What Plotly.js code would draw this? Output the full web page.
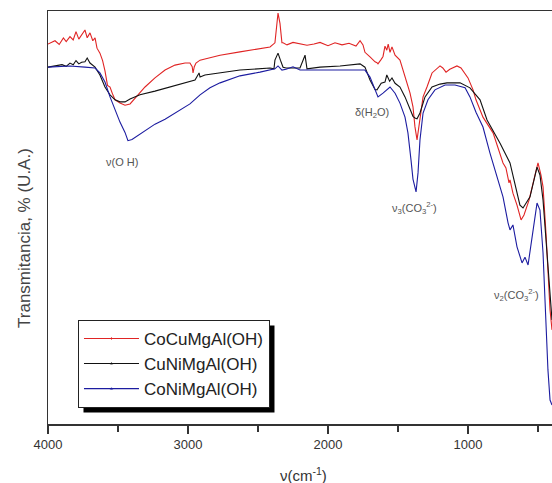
<!DOCTYPE html>
<html>
<head>
<meta charset="utf-8">
<script src="https://cdn.plot.ly/plotly-3.0.1.min.js"></script>
<style>
html,body{margin:0;padding:0;background:#fff;}
#chart{width:552px;height:483px;}
</style>
</head>
<body>
<div id="chart"></div>
<script>
// Wavenumber (cm-1) and transmittance (arbitrary units)
const seriesNames = ["CoCuMgAl(OH)", "CuNiMgAl(OH)", "CoNiMgAl(OH)"];

const redX = [4000,3950,3920,3890,3870,3843,3820,3800,3780,3760,3736,3720,3700,3680,3664,3650,3629,3610,3593,3575,3557,3540,3521,3486,3450,3414,3379,3307,3236,3164,3093,3021,2986,2970,2964,2955,2943,2914,2879,2771,2629,2486,2414,2379,2370,2357,2343,2329,2321,2293,2250,2200,2150,2100,2057,2000,1950,1900,1850,1800,1771,1750,1736,1700,1664,1650,1643,1620,1607,1593,1580,1570,1557,1543,1536,1521,1486,1450,1414,1393,1379,1364,1357,1343,1321,1293,1257,1200,1180,1157,1130,1079,1050,1000,964,943,893,821,750,729,707,700,679,650,621,600,564,521,500,479,464,443,429,414,400];
const redY = [92.0,92.8,91.9,93.5,92.6,93.8,93.0,95.0,93.2,94.3,95.4,93.5,94.7,92.8,93.5,91.0,89.8,88.0,85.5,82.0,81.6,80.0,78.5,77.7,77.2,77.5,78.9,81.6,83.8,85.7,86.9,87.4,87.4,86.5,85.0,86.5,87.4,88.1,88.4,89.3,90.1,91.0,91.3,92.3,96.0,99.5,97.0,92.3,92.3,91.8,92.4,92.1,91.7,92.0,92.4,91.6,92.3,91.8,92.2,91.5,92.8,91.8,90.0,88.9,87.7,87.5,87.2,88.3,89.0,91.5,90.5,92.0,90.0,91.3,90.5,89.3,88.1,84.0,80.1,76.8,72.0,68.8,70.5,73.6,79.2,81.6,85.0,86.7,86.2,85.2,85.9,86.7,86.2,83.8,80.9,78.5,74.3,70.5,63.2,62.0,58.4,59.1,55.9,53.0,49.4,50.6,54.2,60.3,63.2,60.3,57.4,46.2,38.0,27.6,22.8];

const blackX = [4000,3950,3900,3870,3843,3820,3800,3780,3760,3736,3720,3700,3664,3629,3593,3557,3521,3486,3450,3414,3343,3236,3129,3021,2950,2921,2914,2879,2771,2629,2414,2386,2379,2357,2340,2321,2300,2200,2164,2150,2057,1914,1771,1736,1700,1664,1650,1620,1593,1580,1560,1543,1521,1486,1450,1414,1393,1379,1364,1343,1321,1307,1257,1200,1150,1100,1057,986,914,864,771,700,664,629,607,557,507,486,464,443,421,400];
const blackY = [86.4,86.7,87.0,86.6,87.4,87.0,88.0,87.2,87.6,87.7,88.6,87.4,86.4,84.5,81.6,79.7,78.5,78.0,78.0,78.7,79.7,80.6,81.6,82.6,83.3,85.0,84.0,84.5,85.0,85.7,86.2,86.0,88.1,89.8,88.1,86.4,86.2,86.2,89.3,86.0,86.4,86.7,87.2,86.4,83.3,81.0,80.9,82.5,82.8,84.5,83.0,83.8,82.5,81.6,79.2,76.0,74.5,74.1,73.9,75.3,78.0,79.2,81.6,82.3,82.6,82.6,82.6,81.4,78.5,73.6,68.0,63.2,57.9,53.0,52.3,55.0,62.2,60.3,54.2,44.6,32.4,25.2];

const blueX = [4000,3900,3843,3736,3664,3629,3593,3557,3521,3486,3450,3429,3400,3357,3307,3236,3164,3057,2986,2914,2843,2771,2629,2486,2379,2357,2329,2300,2250,2200,2057,1914,1736,1700,1664,1643,1607,1557,1521,1486,1450,1429,1407,1393,1371,1357,1343,1321,1286,1236,1164,1093,1021,986,943,893,843,793,750,714,700,679,650,614,593,571,543,507,486,464,450,429,414,400];
const blueY = [86.4,86.6,86.7,86.4,86.2,85.0,82.8,79.2,76.0,73.1,70.6,68.6,68.9,69.9,71.1,72.6,73.8,75.9,77.5,79.7,81.4,82.6,84.3,85.2,86.0,86.7,85.7,85.9,86.5,85.7,85.7,85.7,85.7,84.0,80.9,79.2,80.1,81.6,80.1,77.7,74.3,70.5,63.9,59.3,56.2,60.8,68.8,75.3,78.5,80.9,82.1,82.1,81.4,79.2,75.5,71.9,65.6,59.8,55.0,48.7,47.0,48.2,42.9,39.0,40.4,38.5,45.3,53.5,51.8,41.4,30.0,13.1,5.8,4.6];

const xTickVals = [4000, 3000, 2000, 1000];
const xTickText = ["4000", "3000", "2000", "1000"];

const colors = ["#e02424", "#111111", "#1c1ca0"];
const symbols = ["line-ns-open", "triangle-up", "triangle-up"];
const xs = [redX, blackX, blueX];
const ys = [redY, blackY, blueY];

const traces = xs.map((x, i) => ({
  x: x, y: ys[i], name: seriesNames[i], type: "scatter", mode: "lines+markers",
  line: {color: colors[i], width: 1.1},
  marker: {color: colors[i], symbol: symbols[i], size: x.map(() => 0),
           line: {color: colors[i], width: 1}}
}));

const tickFont = {family: "Liberation Sans, Arial, sans-serif", size: 13, color: "#333"};
const annFont = {family: "Liberation Sans, Arial, sans-serif", size: 11, color: "#555"};

const layout = {
  width: 552, height: 483,
  margin: {l: 48, r: 0, t: 11, b: 59},
  paper_bgcolor: "#fff", plot_bgcolor: "#fff",
  showlegend: true,
  legend: {
    x: 0.0595, y: 0.252, xanchor: "left", yanchor: "top",
    bgcolor: "#fff", bordercolor: "#222", borderwidth: 1,
    font: {family: "Liberation Sans, Arial, sans-serif", size: 17, color: "#222"},
    itemwidth: 55, tracegroupgap: 0
  },
  xaxis: {
    range: [4000, 400], autorange: false,
    showgrid: false, zeroline: false,
    showline: true, linecolor: "#333", linewidth: 1.5, mirror: true,
    ticks: "outside", ticklen: 8, tickwidth: 1.3, tickcolor: "#333",
    tickvals: xTickVals, ticktext: xTickText, tickfont: tickFont,
    minor: {dtick: 500, tick0: 0, ticks: "outside", ticklen: 6, tickwidth: 1.3, tickcolor: "#333"}
  },
  yaxis: {
    range: [0, 100], autorange: false,
    showgrid: false, zeroline: false, showticklabels: false, ticks: "",
    showline: true, linecolor: "#333", linewidth: 1.5, mirror: false
  },
  annotations: [
    {xref: "paper", yref: "paper", x: -0.048, y: 0.45, text: "Transmitancia, % (U.A.)",
     textangle: -90, showarrow: false, xanchor: "center", yanchor: "middle",
     font: {family: "Liberation Sans, Arial, sans-serif", size: 17, color: "#444"}},
    {xref: "paper", yref: "paper", x: 0.506, y: -0.122, text: "ν(cm<sup>-1</sup>)",
     showarrow: false, xanchor: "center", yanchor: "middle",
     font: {family: "Liberation Sans, Arial, sans-serif", size: 15, color: "#333"}},
    {xref: "x", yref: "y", x: 3470, y: 63.5, text: "ν(O H)", showarrow: false, font: annFont},
    {xref: "x", yref: "y", x: 1686, y: 75.3, text: "δ(H<sub>2</sub>O)", showarrow: false, font: annFont},
    {xref: "x", yref: "y", x: 1380, y: 52.3, text: "ν<sub>3</sub>(CO<sub>3</sub><sup>2-</sup>)", showarrow: false, font: annFont},
    {xref: "x", yref: "y", x: 657, y: 31.2, text: "ν<sub>2</sub>(CO<sub>3</sub><sup>2-</sup>)", showarrow: false, font: annFont}
  ],
  shapes: []
};

Plotly.newPlot("chart", traces, layout, {displayModeBar: false, staticPlot: true}).then(gd => {
  const bg = gd.querySelector(".legend .bg");
  if (!bg) return;
  const r = bg.getBoundingClientRect();
  const c = gd.getBoundingClientRect();
  const fl = gd._fullLayout, s = fl._size;
  const toX = px => (px - c.left - s.l) / s.w;
  const toY = py => 1 - (py - c.top - s.t) / s.h;
  Plotly.relayout(gd, {shapes: [{
    type: "rect", xref: "paper", yref: "paper", layer: "above",
    x0: toX(r.left + 5), x1: toX(r.right + 5), y0: toY(r.bottom + 5), y1: toY(r.top + 5),
    fillcolor: "#000", line: {width: 0}
  }]});
});
</script>
</body>
</html>
